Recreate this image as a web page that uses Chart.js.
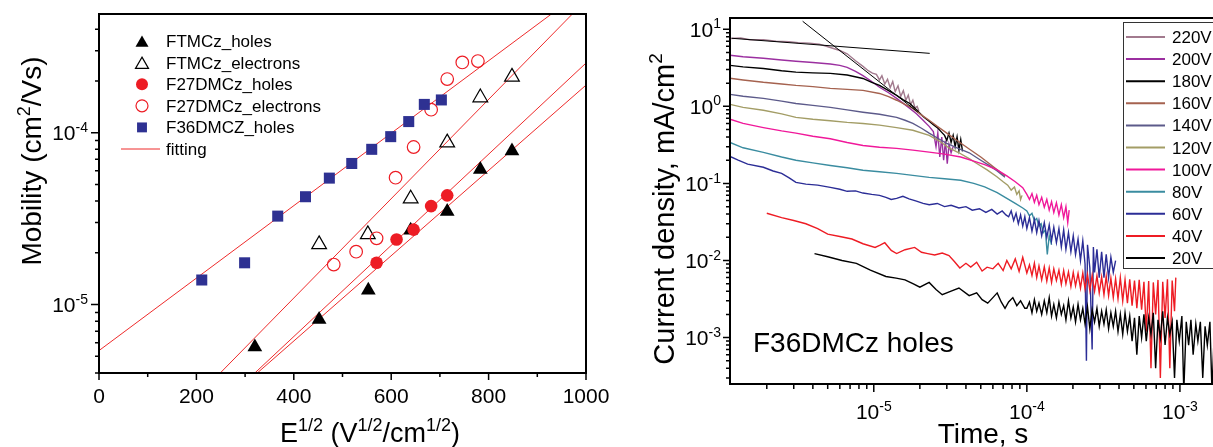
<!DOCTYPE html>
<html>
<head>
<meta charset="utf-8">
<script src="https://cdn.jsdelivr.net/npm/chart.js@4.4.0/dist/chart.umd.min.js"></script>
<style>
  html, body { margin: 0; padding: 0; background: #fff; overflow: hidden; width: 1213px; height: 447px; }
  canvas { position: absolute; top: 0; }
  #mobility { left: 0; }
  #transients { left: 600px; }
</style>
</head>
<body>
<canvas id="mobility" width="640" height="447"></canvas>
<canvas id="transients" width="640" height="447"></canvas>
<script>
// ---- left panel: mobility vs E^1/2 ----
const mobXTicks = [0, 200, 400, 600, 800, 1000];
const mobYDecades = [-5, -4];

const ftmczHolesE = [320, 452, 553, 640, 715, 783, 848];
const ftmczHolesMu = [5.67e-6, 8.19e-6, 1.21e-5, 2.71e-5, 3.48e-5, 6.11e-5, 7.82e-5];
const ftmczElecE = [452, 552, 640, 715, 783, 848];
const ftmczElecMu = [2.24e-5, 2.56e-5, 4.13e-5, 8.75e-5, 1.60e-4, 2.11e-4];
const f27HolesE = [570, 611, 646, 682, 715];
const f27HolesMu = [1.75e-5, 2.39e-5, 2.73e-5, 3.74e-5, 4.32e-5];
const f27ElecE = [482, 528, 570, 609, 646, 682, 715, 746, 778];
const f27ElecMu = [1.71e-5, 2.03e-5, 2.43e-5, 5.47e-5, 8.25e-5, 1.36e-4, 2.05e-4, 2.56e-4, 2.61e-4];
const f36HolesE = [211, 299, 367, 424, 473, 519, 560, 599, 636, 668, 703];
const f36HolesMu = [1.39e-5, 1.75e-5, 3.27e-5, 4.24e-5, 5.44e-5, 6.62e-5, 8.0e-5, 9.48e-5, 1.16e-4, 1.46e-4, 1.55e-4];

// fitted lines (end points)
const fitF36E = [0, 929];
const fitF36Mu = [5.4e-6, 4.9e-4];
const fitF27ElecE = [249, 972];
const fitF27ElecMu = [4.0e-6, 4.9e-4];
const fitF27HolesE = [320, 1000];
const fitF27HolesMu = [4.0e-6, 2.54e-4];
const fitFtmczHolesE = [325, 1000];
const fitFtmczHolesMu = [4.0e-6, 1.89e-4];

// ---- right panel: current transients, [time s, current mA/cm2] ----
const tDecades = [-5, -4, -3];
const jDecades = [-3, -2, -1, 0, 1];
const voltLabels = ['220V', '200V', '180V', '160V', '140V', '120V', '100V', '80V', '60V', '40V', '20V'];
const voltColors = ['#a27a8e', '#9b2fa0', '#000000', '#a5624f', '#5c5a8a', '#a39d66', '#f0189a', '#3a8ca0', '#2b2d96', '#ee1c24', '#000000'];

const j220 = [[1.15e-6, 7.6], [1.35e-6, 7.7], [1.55e-6, 7.3], [1.9e-6, 7.3], [2.3e-6, 7.0], [2.8e-6, 6.9], [3.2e-6, 6.7],
  [3.8e-6, 6.6], [4.4e-6, 6.4], [5.2e-6, 5.8], [6.0e-6, 5.3], [6.7e-6, 4.8], [7.6e-6, 3.9], [8.5e-6, 3.3], [9.2e-6, 2.9],
  [9.8e-6, 2.7], [1.04e-5, 2.6], [1.09e-5, 2.2], [1.13e-5, 2.5], [1.18e-5, 1.95], [1.23e-5, 2.25], [1.28e-5, 1.75],
  [1.33e-5, 2.1], [1.38e-5, 1.55], [1.44e-5, 1.85], [1.5e-5, 1.35], [1.56e-5, 1.6], [1.62e-5, 1.2], [1.68e-5, 1.4],
  [1.74e-5, 1.05], [1.8e-5, 1.2], [1.86e-5, 0.95], [1.92e-5, 1.0], [1.97e-5, 0.87]];
const j200 = [[1.15e-6, 4.6], [1.4e-6, 4.4], [1.9e-6, 4.2], [2.5e-6, 4.0], [3.1e-6, 3.85], [4.0e-6, 3.7], [5.2e-6, 3.55],
  [6.0e-6, 3.4], [6.7e-6, 3.2], [7.6e-6, 2.85], [8.5e-6, 2.5], [9.7e-6, 2.1], [1.09e-5, 1.77], [1.25e-5, 1.5], [1.41e-5, 1.27],
  [1.55e-5, 1.1], [1.72e-5, 0.94], [1.9e-5, 0.8], [2.1e-5, 0.66], [2.3e-5, 0.55], [2.45e-5, 0.47], [2.55e-5, 0.3],
  [2.62e-5, 0.45], [2.7e-5, 0.22], [2.78e-5, 0.4], [2.86e-5, 0.2], [2.94e-5, 0.36], [3.02e-5, 0.18], [3.1e-5, 0.32],
  [3.2e-5, 0.25], [3.3e-5, 0.3]];
const j180 = [[1.15e-6, 3.4], [1.4e-6, 3.25], [1.9e-6, 3.1], [2.5e-6, 2.9], [3.1e-6, 2.78], [4.0e-6, 2.72], [5.2e-6, 2.68],
  [6.7e-6, 2.55], [8.5e-6, 2.3], [9.7e-6, 2.05], [1.09e-5, 1.87], [1.25e-5, 1.6], [1.41e-5, 1.39], [1.55e-5, 1.22],
  [1.72e-5, 1.09], [1.9e-5, 0.9], [2.1e-5, 0.74], [2.3e-5, 0.64], [2.45e-5, 0.58], [2.6e-5, 0.53], [2.75e-5, 0.47],
  [2.9e-5, 0.42], [3.0e-5, 0.36], [3.1e-5, 0.45], [3.2e-5, 0.34], [3.3e-5, 0.42], [3.4e-5, 0.3], [3.5e-5, 0.4],
  [3.6e-5, 0.27], [3.7e-5, 0.37], [3.8e-5, 0.26]];
const j160 = [[1.15e-6, 2.31], [1.4e-6, 2.2], [1.9e-6, 2.05], [2.5e-6, 1.95], [3.1e-6, 1.87], [4.0e-6, 1.8], [5.2e-6, 1.71],
  [6.7e-6, 1.66], [8.5e-6, 1.61], [1.09e-5, 1.47], [1.25e-5, 1.34], [1.41e-5, 1.2], [1.6e-5, 1.06], [1.8e-5, 0.94],
  [2.0e-5, 0.8], [2.3e-5, 0.66], [2.6e-5, 0.55], [3.0e-5, 0.45], [3.5e-5, 0.36], [4.2e-5, 0.28], [5.0e-5, 0.22],
  [5.7e-5, 0.18], [6.4e-5, 0.15], [7.2e-5, 0.125]];
const j140 = [[1.15e-6, 1.43], [1.4e-6, 1.35], [1.9e-6, 1.27], [2.5e-6, 1.17], [3.1e-6, 1.09], [4.0e-6, 1.03], [5.2e-6, 0.97],
  [6.7e-6, 0.9], [8.5e-6, 0.84], [1.09e-5, 0.79], [1.41e-5, 0.72], [1.6e-5, 0.66], [1.8e-5, 0.6], [2.05e-5, 0.52],
  [2.3e-5, 0.45], [2.65e-5, 0.38], [3.0e-5, 0.33], [3.5e-5, 0.29], [4.2e-5, 0.25], [5.0e-5, 0.2], [5.7e-5, 0.17],
  [6.4e-5, 0.145], [7.2e-5, 0.12]];
const j120 = [[1.15e-6, 1.06], [1.4e-6, 0.97], [1.9e-6, 0.89], [2.5e-6, 0.8], [3.1e-6, 0.72], [4.0e-6, 0.68], [5.2e-6, 0.65],
  [6.7e-6, 0.62], [8.5e-6, 0.6], [1.09e-5, 0.57], [1.41e-5, 0.53], [1.8e-5, 0.49], [2.3e-5, 0.42], [2.65e-5, 0.36],
  [3.1e-5, 0.29], [3.6e-5, 0.25], [4.2e-5, 0.21], [4.74e-5, 0.18], [5.5e-5, 0.15], [6.37e-5, 0.122], [7.0e-5, 0.105],
  [7.5e-5, 0.095], [7.9e-5, 0.082], [8.3e-5, 0.09], [8.6e-5, 0.072], [8.9e-5, 0.08], [9.1e-5, 0.062], [9.3e-5, 0.07]];
const j100 = [[1.15e-6, 0.68], [1.4e-6, 0.6], [1.9e-6, 0.53], [2.5e-6, 0.48], [3.1e-6, 0.45], [4.0e-6, 0.41], [5.2e-6, 0.38],
  [6.7e-6, 0.34], [8.5e-6, 0.31], [1.09e-5, 0.295], [1.41e-5, 0.285], [1.8e-5, 0.27], [2.3e-5, 0.255], [2.9e-5, 0.24],
  [3.7e-5, 0.22], [4.5e-5, 0.195], [5.3e-5, 0.175], [6.4e-5, 0.15], [7.4e-5, 0.125], [8.4e-5, 0.105], [9.4e-5, 0.088],
  [1.0e-4, 0.072], [1.04e-4, 0.062], [1.08e-4, 0.074], [1.12e-4, 0.057], [1.16e-4, 0.07], [1.2e-4, 0.053], [1.25e-4, 0.066],
  [1.3e-4, 0.049], [1.35e-4, 0.062], [1.4e-4, 0.045], [1.45e-4, 0.058], [1.5e-4, 0.042], [1.56e-4, 0.056], [1.62e-4, 0.039],
  [1.68e-4, 0.053], [1.74e-4, 0.036], [1.8e-4, 0.05], [1.85e-4, 0.031], [1.89e-4, 0.045]];
const j80 = [[1.15e-6, 0.34], [1.4e-6, 0.29], [1.9e-6, 0.253], [2.5e-6, 0.22], [3.1e-6, 0.2], [4.0e-6, 0.185], [5.2e-6, 0.171],
  [6.7e-6, 0.16], [8.5e-6, 0.148], [1.09e-5, 0.142], [1.41e-5, 0.135], [1.8e-5, 0.127], [2.3e-5, 0.12], [2.9e-5, 0.115],
  [3.7e-5, 0.11], [4.5e-5, 0.1], [5.3e-5, 0.09], [6.4e-5, 0.076], [7.4e-5, 0.064], [8.4e-5, 0.055], [9.4e-5, 0.048],
  [1.0e-4, 0.044], [1.04e-4, 0.038], [1.08e-4, 0.041], [1.12e-4, 0.033], [1.16e-4, 0.035], [1.2e-4, 0.028], [1.24e-4, 0.03],
  [1.28e-4, 0.023], [1.32e-4, 0.025], [1.36e-4, 0.012], [1.4e-4, 0.021], [1.45e-4, 0.016]];
const j60 = [[1.15e-6, 0.224], [1.3e-6, 0.2], [1.5e-6, 0.178], [1.9e-6, 0.162], [2.2e-6, 0.145], [2.5e-6, 0.135], [2.8e-6, 0.118],
  [3.1e-6, 0.103], [3.6e-6, 0.098], [4.3e-6, 0.095], [5.2e-6, 0.089], [6.0e-6, 0.084], [6.7e-6, 0.079], [7.6e-6, 0.08],
  [8.5e-6, 0.075], [9.7e-6, 0.072], [1.09e-5, 0.07], [1.2e-5, 0.066], [1.3e-5, 0.062], [1.41e-5, 0.064], [1.55e-5, 0.068],
  [1.7e-5, 0.063], [1.9e-5, 0.059], [2.1e-5, 0.055], [2.3e-5, 0.053], [2.6e-5, 0.055], [2.9e-5, 0.05], [3.2e-5, 0.052],
  [3.6e-5, 0.048], [4.0e-5, 0.05], [4.4e-5, 0.045], [4.9e-5, 0.047], [5.4e-5, 0.042], [5.9e-5, 0.046], [6.4e-5, 0.04],
  [6.9e-5, 0.044], [7.3e-5, 0.039], [7.6e-5, 0.037], [7.9e-5, 0.044], [8.2e-5, 0.033], [8.5e-5, 0.041], [8.8e-5, 0.03],
  [9.1e-5, 0.039], [9.4e-5, 0.028], [9.7e-5, 0.037], [1.0e-4, 0.026], [1.04e-4, 0.036], [1.08e-4, 0.024], [1.12e-4, 0.034],
  [1.16e-4, 0.023], [1.2e-4, 0.033], [1.25e-4, 0.021], [1.3e-4, 0.031], [1.35e-4, 0.02], [1.4e-4, 0.029], [1.45e-4, 0.018],
  [1.5e-4, 0.027], [1.56e-4, 0.017], [1.62e-4, 0.026], [1.68e-4, 0.015], [1.74e-4, 0.025], [1.8e-4, 0.014], [1.87e-4, 0.023],
  [1.94e-4, 0.013], [2.01e-4, 0.021], [2.08e-4, 0.012], [2.16e-4, 0.019], [2.24e-4, 0.01], [2.32e-4, 0.018], [2.4e-4, 0.009],
  [2.45e-4, 0.0005], [2.49e-4, 0.016], [2.58e-4, 0.008], [2.67e-4, 0.0007], [2.72e-4, 0.015], [2.77e-4, 0.007], [2.87e-4, 0.014],
  [2.97e-4, 0.006], [3.08e-4, 0.013], [3.19e-4, 0.006], [3.3e-4, 0.012], [3.42e-4, 0.006], [3.54e-4, 0.011], [3.67e-4, 0.007],
  [3.8e-4, 0.01]];
const j40 = [[2.0e-6, 0.041], [2.5e-6, 0.036], [3.0e-6, 0.033], [3.6e-6, 0.03], [4.3e-6, 0.026], [5.0e-6, 0.022], [6.0e-6, 0.0205],
  [7.2e-6, 0.019], [8.5e-6, 0.0165], [1.02e-5, 0.0148], [1.1e-5, 0.0158], [1.18e-5, 0.017], [1.3e-5, 0.0135], [1.41e-5, 0.0123],
  [1.6e-5, 0.0138], [1.85e-5, 0.0148], [2.05e-5, 0.0128], [2.25e-5, 0.0123], [2.5e-5, 0.0118], [2.8e-5, 0.0125], [3.1e-5, 0.0116],
  [3.35e-5, 0.0098], [3.65e-5, 0.008], [4.0e-5, 0.0092], [4.3e-5, 0.0082], [4.7e-5, 0.0095], [5.1e-5, 0.0073], [5.5e-5, 0.0082],
  [6.0e-5, 0.0078], [6.5e-5, 0.0092], [7.0e-5, 0.0074], [7.4e-5, 0.01], [7.9e-5, 0.0078], [8.4e-5, 0.0105], [8.9e-5, 0.0072],
  [9.4e-5, 0.011], [1.0e-4, 0.0069], [1.04e-4, 0.0088], [1.08e-4, 0.0064], [1.12e-4, 0.0092], [1.16e-4, 0.006], [1.2e-4, 0.0085],
  [1.25e-4, 0.0056], [1.3e-4, 0.0083], [1.35e-4, 0.0054], [1.4e-4, 0.008], [1.45e-4, 0.0052], [1.5e-4, 0.0078], [1.56e-4, 0.0055],
  [1.62e-4, 0.0075], [1.68e-4, 0.0049], [1.74e-4, 0.0074], [1.8e-4, 0.005], [1.87e-4, 0.0071], [1.94e-4, 0.0046], [2.01e-4, 0.007],
  [2.08e-4, 0.0047], [2.16e-4, 0.0068], [2.24e-4, 0.0044], [2.32e-4, 0.0069], [2.4e-4, 0.0043], [2.49e-4, 0.0066], [2.58e-4, 0.0041],
  [2.67e-4, 0.0064], [2.77e-4, 0.004], [2.87e-4, 0.0063], [2.97e-4, 0.0038], [3.08e-4, 0.0061], [3.19e-4, 0.0036], [3.3e-4, 0.0062],
  [3.42e-4, 0.0035], [3.54e-4, 0.0059], [3.67e-4, 0.0033], [3.8e-4, 0.0058], [3.94e-4, 0.0032], [4.08e-4, 0.006], [4.23e-4, 0.003],
  [4.38e-4, 0.0056], [4.54e-4, 0.0028], [4.7e-4, 0.0057], [4.87e-4, 0.0026], [5.05e-4, 0.0055], [5.23e-4, 0.0024], [5.42e-4, 0.0056],
  [5.62e-4, 0.0023], [5.82e-4, 0.0053], [6.03e-4, 0.0012], [6.25e-4, 0.0054], [6.47e-4, 0.0004], [6.7e-4, 0.0052], [6.94e-4, 0.002],
  [7.19e-4, 0.0056], [7.45e-4, 0.0003], [7.72e-4, 0.0053], [8.0e-4, 0.0018], [8.29e-4, 0.0057], [8.59e-4, 0.0004], [8.9e-4, 0.0055],
  [9.22e-4, 0.0022], [9.4e-4, 0.006]];
const j20 = [[4.1e-6, 0.0123], [5.0e-6, 0.0112], [6.2e-6, 0.01], [7.7e-6, 0.0092], [9.5e-6, 0.0075], [1.2e-5, 0.0062], [1.4e-5, 0.0059],
  [1.6e-5, 0.0056], [1.8e-5, 0.005], [2.0e-5, 0.0045], [2.3e-5, 0.0052], [2.55e-5, 0.0042], [2.8e-5, 0.0036], [3.2e-5, 0.004],
  [3.6e-5, 0.0044], [4.2e-5, 0.0035], [4.7e-5, 0.0038], [5.1e-5, 0.0031], [5.55e-5, 0.0028], [6.0e-5, 0.0033], [6.4e-5, 0.0038],
  [6.8e-5, 0.0029], [7.2e-5, 0.0024], [7.6e-5, 0.0029], [8.1e-5, 0.0033], [8.6e-5, 0.0026], [9.1e-5, 0.003], [9.7e-5, 0.0024],
  [1.0e-4, 0.0024], [1.04e-4, 0.0029], [1.08e-4, 0.0021], [1.12e-4, 0.0031], [1.16e-4, 0.0022], [1.2e-4, 0.0028], [1.25e-4, 0.002],
  [1.3e-4, 0.003], [1.35e-4, 0.0021], [1.4e-4, 0.0033], [1.45e-4, 0.0019], [1.5e-4, 0.0027], [1.56e-4, 0.0018], [1.62e-4, 0.0029],
  [1.68e-4, 0.002], [1.74e-4, 0.0026], [1.8e-4, 0.0017], [1.87e-4, 0.003], [1.94e-4, 0.0018], [2.01e-4, 0.0025], [2.08e-4, 0.0016],
  [2.16e-4, 0.0027], [2.24e-4, 0.0017], [2.32e-4, 0.0024], [2.4e-4, 0.0015], [2.49e-4, 0.0025], [2.58e-4, 0.0013], [2.67e-4, 0.0023],
  [2.77e-4, 0.0016], [2.87e-4, 0.0024], [2.97e-4, 0.0014], [3.08e-4, 0.0022], [3.19e-4, 0.0015], [3.3e-4, 0.0023], [3.42e-4, 0.0013],
  [3.54e-4, 0.0021], [3.67e-4, 0.0014], [3.8e-4, 0.0022], [3.94e-4, 0.0012], [4.08e-4, 0.002], [4.23e-4, 0.0011], [4.38e-4, 0.0021],
  [4.54e-4, 0.0012], [4.7e-4, 0.0019], [4.87e-4, 0.0009], [5.05e-4, 0.0018], [5.23e-4, 0.0006], [5.42e-4, 0.0019], [5.62e-4, 0.001],
  [5.82e-4, 0.002], [6.03e-4, 0.0009], [6.25e-4, 0.0018], [6.47e-4, 0.0011], [6.7e-4, 0.0021], [6.94e-4, 0.0004], [7.19e-4, 0.0017],
  [7.45e-4, 0.001], [7.72e-4, 0.0022], [8.0e-4, 0.0008], [8.29e-4, 0.0018], [8.59e-4, 0.0011], [8.9e-4, 0.0016], [9.22e-4, 0.0003],
  [9.55e-4, 0.0017], [9.9e-4, 0.0009], [1.03e-3, 0.0019], [1.06e-3, 0.0002], [1.1e-3, 0.0016], [1.14e-3, 0.0008], [1.18e-3, 0.0017],
  [1.22e-3, 0.0006], [1.27e-3, 0.0015], [1.31e-3, 0.0009], [1.36e-3, 0.0016], [1.41e-3, 0.0003], [1.46e-3, 0.0014], [1.51e-3, 0.0008],
  [1.57e-3, 0.0016], [1.62e-3, 0.0002], [1.68e-3, 0.0013], [1.74e-3, 0.0007], [1.8e-3, 0.0015], [1.87e-3, 0.0005], [1.94e-3, 0.0013],
  [2.01e-3, 0.0008]];
const voltCurves = [j220, j200, j180, j160, j140, j120, j100, j80, j60, j40, j20];

// black guide lines on the 220V transient (transit time construction)
const plateauFit = [[1.18e-6, 7.64], [2.32e-5, 4.87]];
const tailFit = [[3.43e-6, 12.7], [1.94e-5, 0.84]];

const FONT = '"Liberation Sans", Arial, Helvetica, sans-serif';

function pts(xs, ys) {
  return xs.map((x, i) => ({ x: x, y: ys[i] }));
}
function pairs(list) {
  return list.map(p => ({ x: p[0], y: p[1] }));
}

// draw text made of normal and superscript pieces: parts = [[text, isSup], ...]
function richText(ctx, parts, x, y, size, align, angle) {
  const supSize = Math.round(size * 0.66);
  let total = 0;
  const widths = parts.map(p => {
    ctx.font = (p[1] ? supSize : size) + 'px ' + FONT;
    const w = ctx.measureText(p[0]).width;
    total += w;
    return w;
  });
  ctx.save();
  ctx.translate(x, y);
  if (angle) ctx.rotate(angle);
  ctx.textAlign = 'left';
  ctx.textBaseline = 'alphabetic';
  ctx.fillStyle = '#000';
  let cx = align === 'center' ? -total / 2 : align === 'right' ? -total : 0;
  parts.forEach((p, i) => {
    ctx.font = (p[1] ? supSize : size) + 'px ' + FONT;
    ctx.fillText(p[0], cx, p[1] ? -size * 0.4 : 0);
    cx += widths[i];
  });
  ctx.restore();
}

// positions of 1..9 x 10^n ticks inside [min, max]
function logTicks(min, max) {
  const out = [];
  for (let e = Math.floor(Math.log10(min)); e <= Math.ceil(Math.log10(max)); e++) {
    for (let m = 1; m <= 9; m++) {
      const v = m * Math.pow(10, e);
      if (v >= min * 0.999 && v <= max * 1.001) out.push({ v: v, major: m === 1 });
    }
  }
  return out;
}

// ---- left chart ----
const fitStyle = { showLine: true, pointRadius: 0, borderColor: '#ee2b2b', borderWidth: 1, order: 10, isFit: true };

const mobilityDecor = {
  id: 'mobilityDecor',
  afterDraw(chart) {
    const { ctx, chartArea: a } = chart;
    const xs = chart.scales.x, ys = chart.scales.y;
    ctx.save();
    ctx.strokeStyle = '#000';
    ctx.lineWidth = 1.5;
    ctx.beginPath();
    for (let v = 0; v <= 1000; v += 100) {
      const px = xs.getPixelForValue(v);
      ctx.moveTo(px, a.bottom);
      ctx.lineTo(px, a.bottom + (v % 200 === 0 ? 7 : 4));
    }
    logTicks(ys.min, ys.max).forEach(t => {
      const py = ys.getPixelForValue(t.v);
      ctx.moveTo(a.left, py);
      ctx.lineTo(a.left - (t.major ? 8 : 4), py);
    });
    ctx.stroke();
    ctx.lineWidth = 2;
    ctx.strokeRect(a.left, a.top, a.right - a.left, a.bottom - a.top);

    // tick labels
    ctx.fillStyle = '#000';
    ctx.font = '21px ' + FONT;
    ctx.textAlign = 'center';
    ctx.textBaseline = 'alphabetic';
    mobXTicks.forEach(v => ctx.fillText(String(v), xs.getPixelForValue(v), 403));
    mobYDecades.forEach(e => {
      richText(ctx, [['10', 0], [String(e), 1]], a.left - 11, ys.getPixelForValue(Math.pow(10, e)) + 7.5, 21, 'right');
    });

    // axis titles
    richText(ctx, [['E', 0], ['1/2', 1], [' (V', 0], ['1/2', 1], ['/cm', 0], ['1/2', 1], [')', 0]], 370, 442, 27, 'center');
    richText(ctx, [['Mobility (cm', 0], ['2', 1], ['/Vs)', 0]], 41, 161, 28, 'center', -Math.PI / 2);

    // legend
    let row = 0;
    chart.data.datasets.forEach(ds => {
      if (ds.isFit) return;
      const y = 41 + row * 21.6;
      ctx.fillStyle = ds.pointBackgroundColor;
      ctx.strokeStyle = ds.pointBorderColor;
      ctx.lineWidth = ds.pointBorderWidth;
      const r = ds.pointStyle === 'triangle' ? 7.5 : ds.pointStyle === 'rect' ? 7 : 6;
      Chart.helpers.drawPoint(ctx, { pointStyle: ds.pointStyle, radius: r, rotation: 0, borderWidth: ds.pointBorderWidth },
        142, y + (ds.pointStyle === 'triangle' ? 2 : 0));
      ctx.fillStyle = '#000';
      ctx.font = '17px ' + FONT;
      ctx.textAlign = 'left';
      ctx.fillText(ds.label, 166, y + 6);
      row++;
    });
    const fy = 41 + row * 21.6;
    ctx.strokeStyle = fitStyle.borderColor;
    ctx.lineWidth = 1;
    ctx.beginPath();
    ctx.moveTo(121, fy);
    ctx.lineTo(160, fy);
    ctx.stroke();
    ctx.fillStyle = '#000';
    ctx.fillText('fitting', 166, fy + 6);
    ctx.restore();
  }
};

new Chart(document.getElementById('mobility'), {
  type: 'scatter',
  data: {
    datasets: [
      { label: 'FTMCz_holes', data: pts(ftmczHolesE, ftmczHolesMu), pointStyle: 'triangle', pointRadius: 8.5,
        pointBackgroundColor: '#000', pointBorderColor: '#000', pointBorderWidth: 0, order: 5 },
      { label: 'FTMCz_electrons', data: pts(ftmczElecE, ftmczElecMu), pointStyle: 'triangle', pointRadius: 8.5,
        pointBackgroundColor: 'rgba(255,255,255,0)', pointBorderColor: '#000', pointBorderWidth: 1.2, order: 4 },
      { label: 'F27DMCz_holes', data: pts(f27HolesE, f27HolesMu), pointStyle: 'circle', pointRadius: 6.3,
        pointBackgroundColor: '#ed1c24', pointBorderColor: '#ed1c24', pointBorderWidth: 0, order: 3 },
      { label: 'F27DMCz_electrons', data: pts(f27ElecE, f27ElecMu), pointStyle: 'circle', pointRadius: 6.3,
        pointBackgroundColor: 'rgba(255,255,255,0)', pointBorderColor: '#ed1c24', pointBorderWidth: 1.2, order: 2 },
      { label: 'F36DMCZ_holes', data: pts(f36HolesE, f36HolesMu), pointStyle: 'rect', pointRadius: 7.8,
        pointBackgroundColor: '#2e3192', pointBorderColor: '#2e3192', pointBorderWidth: 0, order: 1 },
      Object.assign({ label: 'fit F36', data: pts(fitF36E, fitF36Mu) }, fitStyle),
      Object.assign({ label: 'fit F27 e', data: pts(fitF27ElecE, fitF27ElecMu) }, fitStyle),
      Object.assign({ label: 'fit F27 h', data: pts(fitF27HolesE, fitF27HolesMu) }, fitStyle),
      Object.assign({ label: 'fit FTMCz h', data: pts(fitFtmczHolesE, fitFtmczHolesMu) }, fitStyle)
    ]
  },
  options: {
    responsive: false,
    animation: false,
    events: [],
    layout: { padding: { left: 99, top: 14, right: 54, bottom: 74 } },
    scales: {
      x: { type: 'linear', min: 0, max: 1000, display: false },
      y: { type: 'logarithmic', min: 4e-6, max: 4.9e-4, display: false }
    },
    plugins: { legend: { display: false }, tooltip: { enabled: false } }
  },
  plugins: [mobilityDecor]
});

// ---- right chart ----
const transientDecor = {
  id: 'transientDecor',
  afterDraw(chart) {
    const { ctx, chartArea: a } = chart;
    const xs = chart.scales.x, ys = chart.scales.y;
    ctx.save();
    ctx.strokeStyle = '#000';
    ctx.lineWidth = 1.5;
    ctx.beginPath();
    logTicks(xs.min, xs.max).forEach(t => {
      const px = xs.getPixelForValue(t.v);
      ctx.moveTo(px, a.bottom);
      ctx.lineTo(px, a.bottom + (t.major ? 8 : 5));
    });
    logTicks(ys.min, ys.max).forEach(t => {
      const py = ys.getPixelForValue(t.v);
      ctx.moveTo(a.left, py);
      ctx.lineTo(a.left - (t.major ? 7 : 4), py);
    });
    ctx.stroke();
    ctx.lineWidth = 2;
    ctx.strokeRect(a.left, a.top, a.right - a.left, a.bottom - a.top);

    tDecades.forEach(e => richText(ctx, [['10', 0], [String(e), 1]], xs.getPixelForValue(Math.pow(10, e)), 419, 21, 'center'));
    jDecades.forEach(e => richText(ctx, [['10', 0], [String(e), 1]], a.left - 9, ys.getPixelForValue(Math.pow(10, e)) + 7.5, 21, 'right'));

    richText(ctx, [['Time, s', 0]], 383, 443, 28, 'center');
    richText(ctx, [['Current density, mA/cm', 0], ['2', 1]], 74, 209, 29, 'center', -Math.PI / 2);
    richText(ctx, [['F36DMCz holes', 0]], 153, 352, 28, 'left');

    // legend box
    ctx.fillStyle = '#fff';
    ctx.fillRect(523, 22, 200, 246);
    ctx.strokeStyle = '#333';
    ctx.lineWidth = 1;
    ctx.strokeRect(523.5, 22.5, 200, 246);
    voltLabels.forEach((lab, i) => {
      const y = 37 + i * 22.1;
      ctx.strokeStyle = voltColors[i];
      ctx.lineWidth = 2;
      ctx.beginPath();
      ctx.moveTo(526, y);
      ctx.lineTo(565, y);
      ctx.stroke();
      ctx.fillStyle = '#000';
      ctx.font = '17px ' + FONT;
      ctx.textAlign = 'left';
      ctx.fillText(lab, 572, y + 6);
    });
    ctx.restore();
  }
};

const curveSets = voltCurves.map((c, i) => ({
  label: voltLabels[i],
  data: pairs(c),
  showLine: true,
  pointRadius: 0,
  borderColor: voltColors[i],
  borderWidth: 1.4,
  order: voltCurves.length - i
}));
const guideSets = [plateauFit, tailFit].map((g, i) => ({
  label: 'guide' + i,
  data: pairs(g),
  showLine: true,
  pointRadius: 0,
  borderColor: '#000',
  borderWidth: 1,
  order: 0
}));

new Chart(document.getElementById('transients'), {
  type: 'scatter',
  data: { datasets: curveSets.concat(guideSets) },
  options: {
    responsive: false,
    animation: false,
    events: [],
    layout: { padding: { left: 130, top: 18, right: 14, bottom: 63 } },
    scales: {
      x: { type: 'logarithmic', min: 1.15e-6, max: 2e-3, display: false },
      y: { type: 'logarithmic', min: 2.5e-4, max: 14, display: false }
    },
    plugins: { legend: { display: false }, tooltip: { enabled: false } }
  },
  plugins: [transientDecor]
});
</script>
</body>
</html>
